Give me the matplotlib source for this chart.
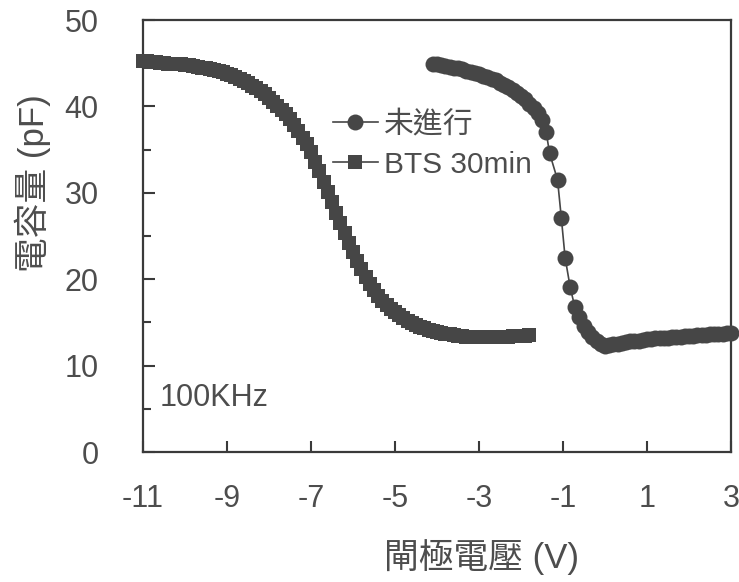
import numpy as np
import matplotlib
matplotlib.use("Agg")
import matplotlib.pyplot as plt
from matplotlib.ticker import MultipleLocator

plt.rcParams['font.family'] = ['Liberation Sans', 'Noto Sans CJK TC', 'DejaVu Sans']
plt.rcParams['axes.unicode_minus'] = False

# ---- data ----
# BTS 30min sweep (gate voltage step 0.1 V from -11.0 to -1.8 V)
bts_v = np.round(np.arange(-11.0, -1.75, 0.1), 1)
bts_c = [45.2, 45.2, 45.1, 45.1, 45.0, 45.0, 44.95, 44.9, 44.9, 44.85,
         44.8, 44.75, 44.7, 44.6, 44.5, 44.4, 44.3, 44.2, 44.1, 43.95,
         43.8, 43.6, 43.4, 43.2, 42.95, 42.7, 42.4, 42.1, 41.75, 41.4,
         41.0, 40.55, 40.1, 39.6, 39.1, 38.5, 37.9, 37.2, 36.4, 35.6,
         34.7, 33.6, 32.5, 31.3, 30.1, 28.9, 27.7, 26.5, 25.3, 24.2,
         23.1, 22.1, 21.2, 20.3, 19.5, 18.8, 18.1, 17.5, 17.0, 16.6,
         16.2, 15.8, 15.5, 15.2, 14.95, 14.7, 14.5, 14.3, 14.15, 14.0,
         13.9, 13.8, 13.7, 13.6, 13.5, 13.45, 13.4, 13.35, 13.3, 13.3,
         13.3, 13.3, 13.3, 13.3, 13.3, 13.3, 13.35, 13.35, 13.4, 13.4,
         13.45, 13.45, 13.5]

# 未進行 (before stress)
ref_v = [-4.1, -4.0, -3.9, -3.8, -3.7, -3.6, -3.5, -3.4, -3.3, -3.2,
         -3.1, -3.0, -2.9, -2.8, -2.7, -2.6, -2.5, -2.4, -2.3, -2.2,
         -2.1, -2.0, -1.9, -1.8, -1.7, -1.6, -1.5, -1.4, -1.32, -1.13,
         -1.04, -0.95, -0.83, -0.72, -0.62, -0.5, -0.4, -0.3, -0.2, -0.1,
         0.0, 0.1, 0.2, 0.3, 0.4, 0.5, 0.6, 0.7, 0.8, 0.9,
         1.0, 1.1, 1.2, 1.3, 1.4, 1.5, 1.6, 1.7, 1.8, 1.9,
         2.0, 2.1, 2.2, 2.3, 2.4, 2.5, 2.6, 2.7, 2.8, 2.9, 3.0]
ref_c = [44.9, 44.85, 44.8, 44.7, 44.6, 44.5, 44.4, 44.3, 44.15, 44.0,
         43.85, 43.7, 43.55, 43.4, 43.2, 43.0, 42.75, 42.5, 42.2, 41.9,
         41.6, 41.2, 40.8, 40.3, 39.8, 39.2, 38.4, 37.0, 34.6, 31.5,
         27.1, 22.5, 19.1, 16.8, 15.6, 14.6, 13.9, 13.3, 12.8, 12.45,
         12.3, 12.35, 12.45, 12.55, 12.65, 12.75, 12.8, 12.85, 12.9, 13.0,
         13.05, 13.1, 13.15, 13.2, 13.22, 13.25, 13.3, 13.33, 13.36, 13.4,
         13.45, 13.48, 13.5, 13.53, 13.56, 13.6, 13.63, 13.66, 13.7, 13.72, 13.75]

labels = ['未進行', 'BTS 30min']
x_ticks = [-11, -9, -7, -5, -3, -1, 1, 3]
y_ticks = [0, 10, 20, 30, 40, 50]

# ---- style ----
mark_col = '#464646'
text_col = '#4d4d4d'
spine_col = '#3a3a3a'

fig = plt.figure(figsize=(7.39, 5.82), dpi=100)
ax = fig.add_axes([143/739, 1-452/582, (731-143)/739, (452-20)/582])

ax.plot(ref_v, ref_c, '-o', color=mark_col, lw=1.2, ms=11.5, mew=0,
        label=labels[0], zorder=3, clip_on=False)
ax.plot(bts_v, bts_c, '-s', color=mark_col, lw=1.2, ms=10.5, mew=0,
        label=labels[1], zorder=3, clip_on=False)

ax.set_xlim(-11, 3)
ax.set_ylim(0, 50)
ax.set_xticks(x_ticks)
ax.set_yticks(y_ticks)
ax.yaxis.set_minor_locator(MultipleLocator(5))

for s in ax.spines.values():
    s.set_color(spine_col)
    s.set_linewidth(1.6)

ax.tick_params(axis='both', which='major', direction='in', length=8, width=1.5,
               color=spine_col, labelcolor=text_col, labelsize=22)
ax.tick_params(axis='x', which='major', pad=23)
ax.tick_params(axis='y', which='major', pad=32, length=8.5)
ax.tick_params(axis='y', which='minor', direction='in', length=6, width=1.5,
               color=spine_col)
ax.tick_params(top=False, right=False)

ax.set_xlabel('閘極電壓 (V)', fontsize=25, color=text_col)
ax.xaxis.label.set_va('center')
ax.xaxis.set_label_coords((481-143)/588, (452-557)/432)
ax.set_ylabel('電容量 (pF)', fontsize=25, color=text_col)
ax.yaxis.label.set_va('center')
ax.yaxis.set_label_coords((33-143)/588, (452-183)/432)

ax.text(-10.6, 6.25, '100KHz', fontsize=22, color=text_col, va='center', ha='left')

leg = ax.legend(loc='upper left', bbox_to_anchor=((333-143)/588, (452-110)/432),
                frameon=False, fontsize=21.5, handlelength=1.5, handletextpad=0.2,
                labelspacing=0.42, borderpad=0, borderaxespad=0)
for t in leg.get_texts():
    t.set_color(text_col)

fig.savefig('out.png', dpi=100)
